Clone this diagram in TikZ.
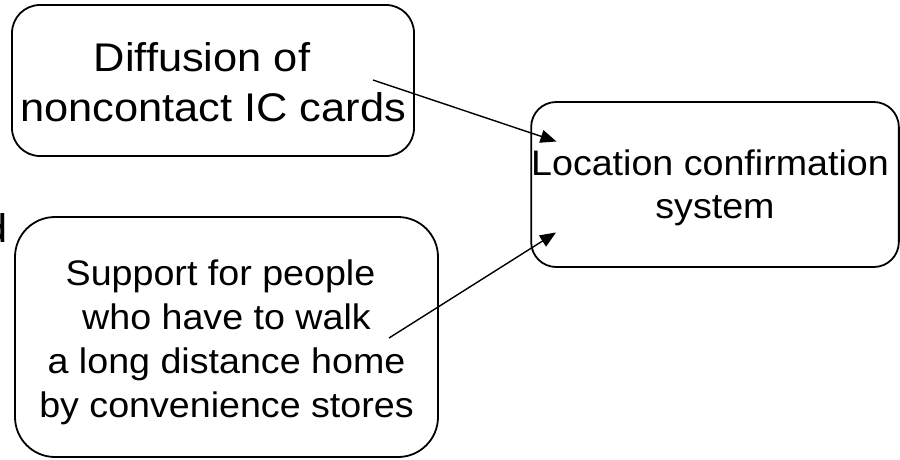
\documentclass[tikz,border=0pt]{standalone}
\usepackage{fontspec}
\setmainfont{Liberation Sans}
\newfontfamily\fontA[FakeStretch=1.085]{Liberation Sans}
\newfontfamily\fontB[FakeStretch=1.06]{Liberation Sans}
\usetikzlibrary{arrows.meta}
\begin{document}
\begin{tikzpicture}[x=1pt,y=-1pt,
  box/.style={draw, line width=1.8pt, rounded corners=#1, align=center, inner sep=0pt},
  arr/.style={-{Triangle[length=16pt,width=13pt]}, line width=1.4pt},
  bigtxt/.style={font=\fontA\fontsize{40}{50}\selectfont},
  midtxt/.style={font=\fontB\fontsize{35.5}{43}\selectfont},
  lowtxt/.style={font=\fontB\fontsize{35.5}{44}\selectfont}]
\useasboundingbox (0,0) rectangle (900,459);
\clip (0,0) rectangle (900,459);
% boxes
\node[box=28pt, bigtxt, minimum width=402pt, minimum height=151pt,
      text height=90pt, text depth=8pt] (diff) at (213,80.5)
  {Diffusion of\hspace*{22pt}\\noncontact IC cards};
\node[box=25pt, midtxt, minimum width=366pt, minimum height=165pt,
      text height=75pt, text depth=8pt] (loc) at (715,184.5)
  {Location confirmation\hspace*{10pt}\\system};
\node[box=40pt, lowtxt, minimum width=423pt, minimum height=240pt,
      text height=168pt, text depth=8pt] (supp) at (226.5,337)
  {Support for people\hspace*{12pt}\\who have to walk\hspace*{12pt}\\a long distance home\hspace*{9pt}\\by convenience stores};
% clipped fragment at the left edge
\node[bigtxt, anchor=base east, inner sep=0pt] (frag) at (8,242) {d};
% connector ends
\coordinate (s1) at (373,80);
\coordinate (e1) at (556.5,141.5);
\coordinate (s2) at (389,338);
\coordinate (e2) at (556,232.5);
\draw[arr] (s1) -- (e1);
\draw[arr] (s2) -- (e2);
\end{tikzpicture}
\end{document}
